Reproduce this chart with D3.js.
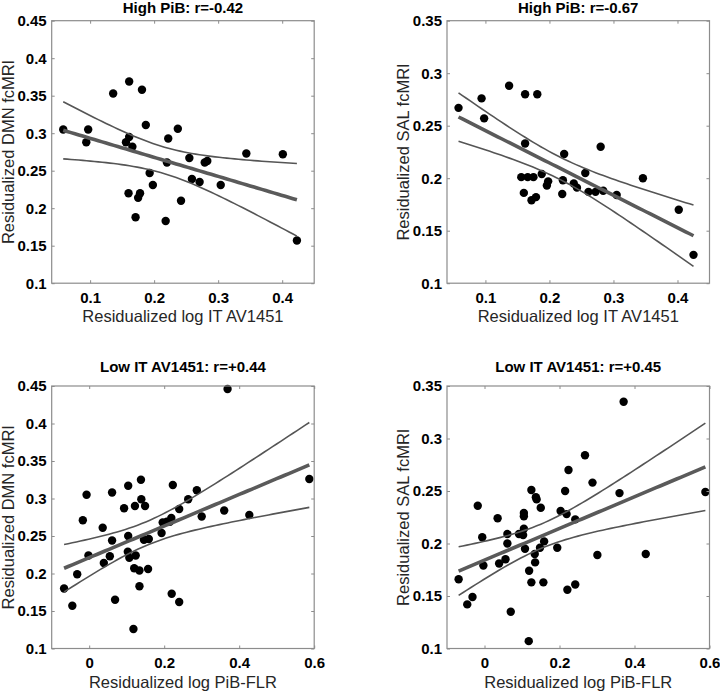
<!DOCTYPE html>
<html>
<head>
<meta charset="utf-8">
<script src="https://cdn.jsdelivr.net/npm/d3@7"></script>
<style>
body { margin: 0; background: #fff; }
text { font-family: "Liberation Sans", Arial, Helvetica, sans-serif; }
</style>
</head>
<body>
<div id="chart"></div>
<script>
var width = 720, height = 692;
var side = 262.5;
var axisColor = "#8c8c8c";
var lineColor = "#555555";

// high PiB group, DMN
var dmnHighX = [0.058, 0.094, 0.097, 0.136, 0.161, 0.181, 0.187, 0.161, 0.156, 0.166, 0.222, 0.237, 0.220, 0.193, 0.198,
  0.160, 0.178, 0.175, 0.171, 0.218, 0.242, 0.255, 0.259, 0.271, 0.279, 0.283, 0.304, 0.344, 0.401, 0.423];
var dmnHighY = [0.305, 0.288, 0.305, 0.353, 0.369, 0.358, 0.311, 0.295, 0.288, 0.282, 0.293, 0.306, 0.261, 0.247, 0.231,
  0.220, 0.220, 0.214, 0.188, 0.183, 0.210, 0.267, 0.239, 0.235, 0.261, 0.263, 0.231, 0.273, 0.272, 0.157];

// high PiB group, SAL
var salHighX = [0.058, 0.094, 0.098, 0.137, 0.162, 0.181, 0.162, 0.156, 0.166, 0.175, 0.160, 0.172, 0.179, 0.188, 0.196,
  0.198, 0.223, 0.221, 0.220, 0.238, 0.243, 0.256, 0.280, 0.261, 0.272, 0.284, 0.305, 0.346, 0.402, 0.425];
var salHighY = [0.267, 0.276, 0.257, 0.288, 0.280, 0.280, 0.233, 0.201, 0.201, 0.201, 0.186, 0.179, 0.182, 0.204, 0.193,
  0.197, 0.223, 0.198, 0.185, 0.195, 0.191, 0.205, 0.230, 0.187, 0.187, 0.188, 0.184, 0.200, 0.170, 0.127];

// low IT AV1451 group, DMN
var dmnLowX = [-0.067, -0.045, -0.032, -0.017, -0.007, -0.002, 0.036, 0.039, 0.061, 0.061, 0.055, 0.069, 0.093, 0.104, 0.104,
  0.103, 0.107, 0.122, 0.138, 0.139, 0.149, 0.124, 0.120, 0.134, 0.146, 0.159, 0.157, 0.134, 0.118, 0.193,
  0.196, 0.207, 0.215, 0.219, 0.223, 0.240, 0.264, 0.220, 0.240, 0.287, 0.300, 0.360, 0.369, 0.427, 0.587];
var dmnLowY = [0.180, 0.157, 0.199, 0.271, 0.305, 0.224, 0.261, 0.214, 0.308, 0.244, 0.223, 0.165, 0.287, 0.317, 0.250,
  0.229, 0.221, 0.290, 0.325, 0.299, 0.290, 0.224, 0.207, 0.204, 0.245, 0.246, 0.206, 0.183, 0.126, 0.254,
  0.268, 0.269, 0.269, 0.274, 0.318, 0.286, 0.299, 0.173, 0.162, 0.311, 0.276, 0.284, 0.446, 0.278, 0.326];

// low IT AV1451 group, SAL
var salLowX = [-0.069, -0.046, -0.032, -0.018, -0.006, -0.003, 0.035, 0.039, 0.056, 0.061, 0.061, 0.070, 0.092, 0.103, 0.105,
  0.105, 0.105, 0.108, 0.119, 0.125, 0.118, 0.125, 0.137, 0.139, 0.150, 0.134, 0.135, 0.148, 0.159, 0.157,
  0.194, 0.203, 0.219, 0.215, 0.224, 0.242, 0.221, 0.242, 0.268, 0.288, 0.301, 0.360, 0.371, 0.430, 0.589];
var salLowY = [0.166, 0.142, 0.149, 0.236, 0.206, 0.179, 0.224, 0.181, 0.185, 0.209, 0.200, 0.135, 0.209, 0.208, 0.214,
  0.226, 0.229, 0.195, 0.174, 0.163, 0.107, 0.251, 0.244, 0.242, 0.234, 0.190, 0.182, 0.196, 0.202, 0.163,
  0.196, 0.231, 0.228, 0.250, 0.270, 0.223, 0.156, 0.161, 0.284, 0.258, 0.189, 0.248, 0.335, 0.190, 0.249];

var titles = ["High PiB: r=-0.42", "High PiB: r=-0.67", "Low IT AV1451: r=+0.44", "Low IT AV1451: r=+0.45"];
var xLabels = ["Residualized log IT AV1451", "Residualized log PiB-FLR"];
var yLabels = ["Residualized DMN fcMRI", "Residualized SAL fcMRI"];
var xTicksHigh = [0.1, 0.2, 0.3, 0.4];
var xTicksLow = [0, 0.2, 0.4, 0.6];
var yTicksDmn = [0.1, 0.15, 0.2, 0.25, 0.3, 0.35, 0.4, 0.45];
var yTicksSal = [0.1, 0.15, 0.2, 0.25, 0.3, 0.35];
var xDomainHigh = [0.04, 0.45], xDomainLow = [-0.1, 0.6];
var yDomainDmn = [0.1, 0.45], yDomainSal = [0.1, 0.35];

var panels = [
  {x: dmnHighX, y: dmnHighY, title: titles[0], xl: xLabels[0], yl: yLabels[0], xt: xTicksHigh, yt: yTicksDmn, xd: xDomainHigh, yd: yDomainDmn, left: 51.7, top: 20.7, titleGap: 8},
  {x: salHighX, y: salHighY, title: titles[1], xl: xLabels[0], yl: yLabels[1], xt: xTicksHigh, yt: yTicksSal, xd: xDomainHigh, yd: yDomainSal, left: 447, top: 20.7, titleGap: 8},
  {x: dmnLowX, y: dmnLowY, title: titles[2], xl: xLabels[1], yl: yLabels[0], xt: xTicksLow, yt: yTicksDmn, xd: xDomainLow, yd: yDomainDmn, left: 51.7, top: 386, titleGap: 14},
  {x: salLowX, y: salLowY, title: titles[3], xl: xLabels[1], yl: yLabels[1], xt: xTicksLow, yt: yTicksSal, xd: xDomainLow, yd: yDomainSal, left: 447, top: 386, titleGap: 14}
];

// least squares fit with 95% confidence bounds of the mean
function fitLine(xs, ys) {
  var n = xs.length, mx = d3.mean(xs), my = d3.mean(ys);
  var sxx = d3.sum(xs, function(x) { return (x - mx) * (x - mx); });
  var sxy = d3.sum(xs.map(function(x, i) { return (x - mx) * (ys[i] - my); }));
  var b = sxy / sxx, a = my - b * mx;
  var sse = d3.sum(xs.map(function(x, i) { var e = ys[i] - a - b * x; return e * e; }));
  var s = Math.sqrt(sse / (n - 2));
  var t = 1.96 + 2.4 / (n - 2);
  var x0 = d3.min(xs), x1 = d3.max(xs);
  return d3.range(61).map(function(i) {
    var x = x0 + (x1 - x0) * i / 60;
    var yh = a + b * x;
    var se = s * Math.sqrt(1 / n + (x - mx) * (x - mx) / sxx);
    return {x: x, y: yh, lo: yh - t * se, hi: yh + t * se};
  });
}

var svg = d3.select("#chart").append("svg")
  .attr("width", width)
  .attr("height", height);

panels.forEach(function(p) {
  var g = svg.append("g").attr("transform", "translate(" + p.left + "," + p.top + ")");
  var xScale = d3.scaleLinear().domain(p.xd).range([0, side]);
  var yScale = d3.scaleLinear().domain(p.yd).range([side, 0]);
  var fmt = function(d) { return String(d); };

  // points
  g.selectAll("circle")
    .data(p.x.map(function(x, i) { return [x, p.y[i]]; }))
    .enter().append("circle")
    .attr("cx", function(d) { return xScale(d[0]); })
    .attr("cy", function(d) { return yScale(d[1]); })
    .attr("r", 4.2)
    .attr("fill", "black");

  // fit and confidence bounds
  var fit = fitLine(p.x, p.y);
  ["hi", "lo"].forEach(function(k) {
    g.append("path")
      .attr("d", d3.line().x(function(d) { return xScale(d.x); }).y(function(d) { return yScale(d[k]); })(fit))
      .attr("fill", "none")
      .attr("stroke", lineColor)
      .attr("stroke-width", 1.6);
  });
  g.append("path")
    .attr("d", d3.line().x(function(d) { return xScale(d.x); }).y(function(d) { return yScale(d.y); })(fit))
    .attr("fill", "none")
    .attr("stroke", "#5a5a5a")
    .attr("stroke-width", 3.6);

  // box
  g.append("rect")
    .attr("width", side)
    .attr("height", side)
    .attr("fill", "none")
    .attr("stroke", axisColor)
    .attr("stroke-width", 1.2);

  var xb = g.append("g")
    .attr("transform", "translate(0," + side + ")")
    .call(d3.axisBottom(xScale).tickValues(p.xt).tickFormat(fmt).tickSize(-3).tickPadding(9));
  var xt = g.append("g")
    .call(d3.axisTop(xScale).tickValues(p.xt).tickFormat("").tickSize(-3));
  var yl = g.append("g")
    .call(d3.axisLeft(yScale).tickValues(p.yt).tickFormat(fmt).tickSize(-3).tickPadding(5));
  var yr = g.append("g")
    .attr("transform", "translate(" + side + ",0)")
    .call(d3.axisRight(yScale).tickValues(p.yt).tickFormat("").tickSize(-3));
  [xb, xt, yl, yr].forEach(function(a) {
    a.select(".domain").remove();
    a.selectAll("line").attr("stroke", axisColor);
    a.selectAll("text")
      .attr("fill", "black")
      .style("font-size", "15px")
      .style("font-weight", "bold")
      .style("font-family", "Liberation Sans, Arial, sans-serif");
  });

  // labels
  g.append("text")
    .text(p.title)
    .attr("x", side / 2)
    .attr("y", -p.titleGap)
    .attr("text-anchor", "middle")
    .style("font-size", "15px")
    .style("font-weight", "bold")
    .attr("fill", "black");
  g.append("text")
    .text(p.xl)
    .attr("x", side / 2)
    .attr("y", side + 39)
    .attr("text-anchor", "middle")
    .style("font-size", "16.5px")
    .attr("fill", "#262626");
  g.append("text")
    .text(p.yl)
    .attr("transform", "rotate(-90)")
    .attr("x", -side / 2)
    .attr("y", -38)
    .attr("text-anchor", "middle")
    .style("font-size", "16.5px")
    .attr("fill", "#262626");
});
</script>
</body>
</html>
